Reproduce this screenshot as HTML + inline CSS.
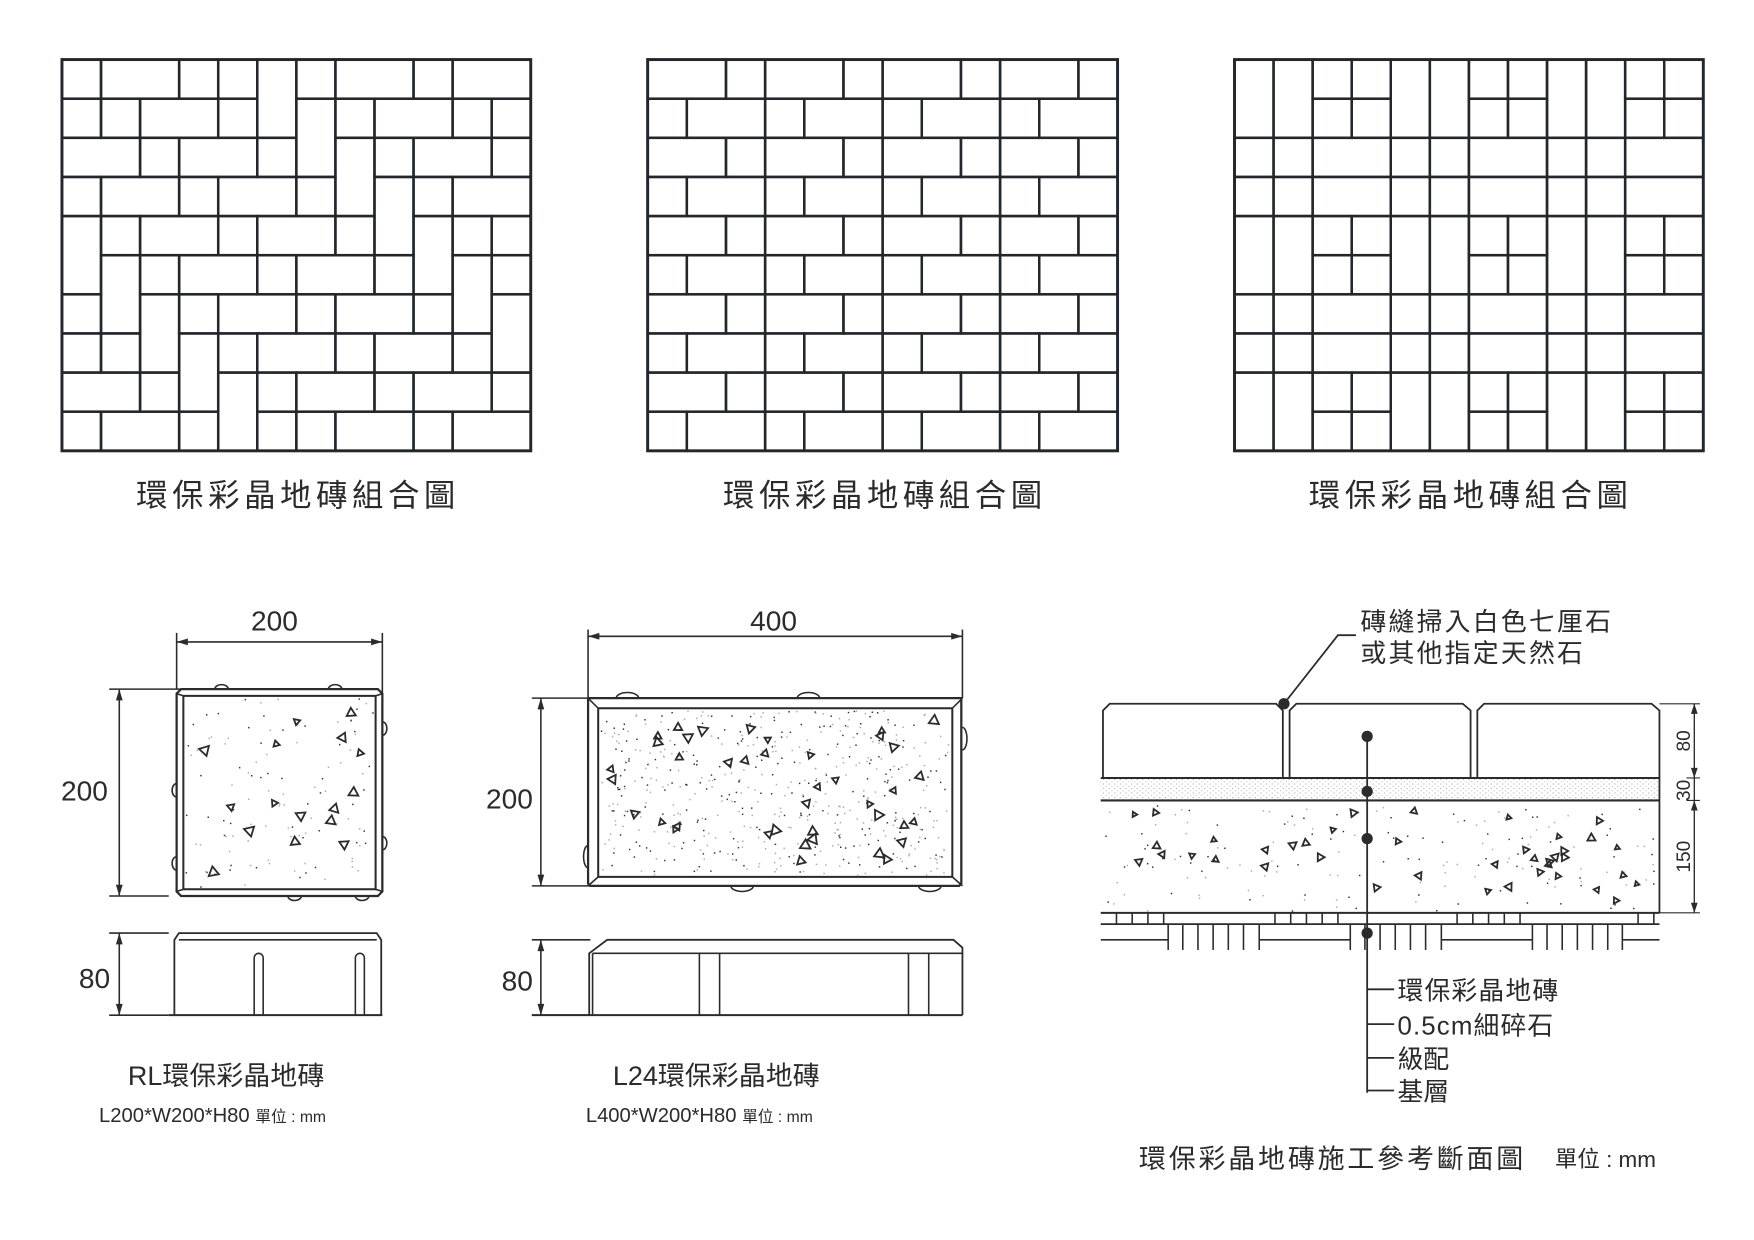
<!DOCTYPE html>
<html><head><meta charset="utf-8">
<style>
html,body{margin:0;padding:0;background:#fff;}
svg{display:block;}
text{font-family:"Liberation Sans","Noto Sans CJK TC",sans-serif;fill:#2b2b2b;}
</style></head>
<body>
<svg id="s" xmlns="http://www.w3.org/2000/svg" width="1754" height="1240" viewBox="0 0 1560 1103">
<defs>
<pattern id="sand" width="5" height="4" patternUnits="userSpaceOnUse">
<rect x="1" y="1" width="1" height="0.8" fill="#9a9a9a"/>
<rect x="3.5" y="3" width="1" height="0.8" fill="#b5b5b5"/>
</pattern>
</defs>
<g id="grids" fill="none" stroke="#23272b" stroke-width="2.2"></g>

<g font-size="28" text-anchor="middle" letter-spacing="4">
<text x="265" y="450">環保彩晶地磚組合圖</text>
<text x="787" y="450">環保彩晶地磚組合圖</text>
<text x="1308" y="450">環保彩晶地磚組合圖</text>
</g>

<!-- RL top view -->
<g fill="none" stroke="#2b2b2b" stroke-width="1.4">
<line x1="157" y1="563" x2="157" y2="613"/>
<line x1="340" y1="563" x2="340" y2="625"/>
<line x1="157" y1="571" x2="340" y2="571"/>
<line x1="97" y1="613" x2="185" y2="613"/>
<line x1="97" y1="797" x2="150" y2="797"/>
<line x1="106" y1="613" x2="106" y2="797"/>
<line x1="97" y1="830" x2="150" y2="830"/>
<line x1="97" y1="903" x2="150" y2="903"/>
<line x1="106" y1="830" x2="106" y2="903"/>
<path d="M161 613 H336 L340 617 V793 L336 797 H161 L157 793 V617 Z" stroke-width="2"/>
<rect x="163" y="619" width="171" height="172" stroke-width="1.8"/>
<path d="M157 617 L163 619 M340 617 L334 619 M157 793 L163 791 M340 793 L334 791"/>
<path d="M191 613 a6 4 0 0 1 12 0 M292 613 a6 4 0 0 1 12 0 M256 797 a6 4 0 0 0 12 0 M316 797 a6 4 0 0 0 12 0 M157 697 a4 6 0 0 0 0 12 M157 762 a4 6 0 0 0 0 12 M340 642 a4 6 0 0 1 0 12 M340 744 a4 6 0 0 1 0 12"/>
<!-- RL side -->
<path d="M155 903 V836 L159 830 H335 L339 836 V903" stroke-width="1.6"/>
<line x1="159" y1="836" x2="335" y2="836"/>
<line x1="150" y1="903" x2="340" y2="903" stroke-width="1.8"/>
<path d="M226 903 V852 a4 4 0 0 1 8 0 V903 M316 903 V852 a4 4 0 0 1 8 0 V903"/>
</g>
<g fill="#2b2b2b">
<path d="M157 571 l10 -3 v6 z M340 571 l-10 -3 v6 z M106 613 l-3 10 h6 z M106 797 l-3 -10 h6 z M106 830 l-3 10 h6 z M106 903 l-3 -10 h6 z"/>
</g>
<text x="244" y="561" font-size="25" text-anchor="middle">200</text>
<text x="75" y="712" font-size="25" text-anchor="middle">200</text>
<text x="84" y="879" font-size="25" text-anchor="middle">80</text>
<text x="201" y="965" font-size="24" text-anchor="middle">RL環保彩晶地磚</text>
<text x="88" y="998" font-size="18">L200*W200*H80 <tspan font-size="14">單位 : mm</tspan></text>

<!-- L24 top view -->
<g fill="none" stroke="#2b2b2b" stroke-width="1.4">
<line x1="523" y1="560" x2="523" y2="621"/>
<line x1="856" y1="560" x2="856" y2="621"/>
<line x1="523" y1="566" x2="856" y2="566"/>
<line x1="473" y1="621" x2="525" y2="621"/>
<line x1="473" y1="788" x2="525" y2="788"/>
<line x1="481" y1="621" x2="481" y2="788"/>
<line x1="473" y1="836" x2="525" y2="836"/>
<line x1="473" y1="903" x2="525" y2="903"/>
<line x1="481" y1="836" x2="481" y2="903"/>
<path d="M524 621 H855 V786 L853 788 H525 L523 786 V622 Z" stroke-width="2"/>
<rect x="532" y="630" width="315" height="150" stroke-width="1.8"/>
<path d="M523 621 L532 630 M856 621 L847 630 M523 788 L532 780 M856 788 L847 780"/>
<path d="M548 621 a10 5 0 0 1 20 0 M709 621 a10 5 0 0 1 20 0 M650 788 a10 5 0 0 0 20 0 M817 788 a10 5 0 0 0 20 0 M523 752 a4 10 0 0 0 0 20 M856 647 a4 10 0 0 1 0 20"/>
<!-- L24 side -->
<path d="M524 903 V848 L540 836 H848 L856 843 V903" stroke-width="1.6"/>
<line x1="527" y1="848" x2="856" y2="848"/>
<line x1="527" y1="848" x2="527" y2="903"/>
<line x1="473" y1="903" x2="856" y2="903" stroke-width="1.8"/>
<path d="M622 848 V903 M640 848 V903 M808 848 V903 M826 848 V903"/>
</g>
<g fill="#2b2b2b">
<path d="M523 566 l10 -3 v6 z M856 566 l-10 -3 v6 z M481 621 l-3 10 h6 z M481 788 l-3 -10 h6 z M481 836 l-3 10 h6 z M481 903 l-3 -10 h6 z"/>
</g>
<text x="688" y="561" font-size="25" text-anchor="middle">400</text>
<text x="453" y="719" font-size="25" text-anchor="middle">200</text>
<text x="460" y="881" font-size="25" text-anchor="middle">80</text>
<text x="637" y="965" font-size="24" text-anchor="middle">L24環保彩晶地磚</text>
<text x="521" y="998" font-size="18">L400*W200*H80 <tspan font-size="14">單位 : mm</tspan></text>

<!-- Section -->
<rect x="979" y="692" width="497" height="20" fill="url(#sand)"/>
<g fill="none" stroke="#2b2b2b" stroke-width="1.6">
<path d="M981 692 V632 L987 626 H1135 L1141 632 V692"/>
<path d="M1147 692 V632 L1153 626 H1301 L1308 632 V692"/>
<path d="M1314 692 V632 L1320 626 H1469 L1476 632 V692"/>
<line x1="979" y1="692" x2="1476" y2="692" stroke-width="1.8"/>
<line x1="979" y1="712" x2="1476" y2="712" stroke-width="1.8"/>
<line x1="1476" y1="692" x2="1476" y2="812"/>
<line x1="979" y1="812" x2="1476" y2="812" stroke-width="1.8"/>
<line x1="979" y1="822" x2="1476" y2="822"/>
<line x1="1476" y1="626" x2="1512" y2="626" stroke-width="1"/>
<line x1="1476" y1="812" x2="1512" y2="812" stroke-width="1"/>
<line x1="1507" y1="626" x2="1507" y2="812" stroke-width="1.2"/>
<line x1="1500" y1="692" x2="1512" y2="692" stroke-width="1"/>
<line x1="1500" y1="712" x2="1512" y2="712" stroke-width="1"/>
<line x1="1216" y1="655" x2="1216" y2="972"/>
<path d="M1216 880 H1240 M1216 911 H1240 M1216 941 H1240 M1216 970 H1240"/>
<path d="M1142 626 L1190 565 H1206"/>
</g>
<g id="sub" fill="none" stroke="#2b2b2b" stroke-width="1.4"></g>
<g fill="#2b2b2b">
<path d="M1507 626 l-3 9 h6 z M1507 692 l-3 -9 h6 z M1507 712 l-3 9 h6 z M1507 812 l-3 -9 h6 z"/>
<circle cx="1216" cy="655" r="5"/>
<circle cx="1216" cy="704" r="5"/>
<circle cx="1216" cy="746" r="5"/>
<circle cx="1216" cy="830" r="5"/>
<circle cx="1142" cy="626" r="5"/>
</g>
<g font-size="17" text-anchor="middle">
<text transform="translate(1503,659) rotate(-90)">80</text>
<text transform="translate(1503,703) rotate(-90)">30</text>
<text transform="translate(1503,762) rotate(-90)">150</text>
</g>
<g font-size="23">
<text x="1210" y="561" letter-spacing="2">磚縫掃入白色七厘石</text>
<text x="1210" y="589" letter-spacing="2">或其他指定天然石</text>
<text x="1243" y="889" letter-spacing="1">環保彩晶地磚</text>
<text x="1243" y="920" letter-spacing="1">0.5cm細碎石</text>
<text x="1243" y="950">級配</text>
<text x="1243" y="979">基層</text>
</g>
<text x="1013" y="1039" font-size="24" letter-spacing="2.5">環保彩晶地磚施工參考斷面圖</text>
<text x="1383" y="1038" font-size="20">單位 : mm</text>
</svg>
<script>
(function(){
var NS="http://www.w3.org/2000/svg";
function el(p,t,a){var e=document.createElementNS(NS,t);for(var k in a)e.setAttribute(k,a[k]);p.appendChild(e);return e;}
var G=document.getElementById("grids");
function grid(x0,y0,x1,y1,rows){
 var cw=(x1-x0)/12,ch=(y1-y0)/rows.length;
 for(var r=0;r<rows.length;r++){var c=0;var row=rows[r];
  for(var i=0;i<row.length;i++){var t=row[i];
   if(t==='V'){el(G,"rect",{x:x0+c*cw,y:y0+r*ch,width:cw,height:ch*2});c++;}
   else if(t==='-'){c++;}
   else{el(G,"rect",{x:x0+c*cw,y:y0+r*ch,width:cw*t,height:ch});c+=t;}
  }}
 el(G,"rect",{x:x0,y:y0,width:x1-x0,height:y1-y0,"stroke-width":2.6});
}
grid(55,53,472,401,[
[1,2,1,1,'V',1,2,1,2],
[1,1,2,1,'-','V',1,2,1,1],
[2,1,2,1,'-','V',1,2,1],
[1,2,1,2,1,'-','V',1,2],
['V',1,2,1,2,1,'-','V',1,1],
['-','V',1,2,1,2,1,'-','V',1],
[1,'-','V',1,2,1,2,1,'-','V'],
[1,1,'-','V',1,2,1,2,1,'-'],
[2,1,'-','V',1,2,1,2,1],
[1,2,1,'-',1,1,2,1,2]]);
var r2=[];for(var i=0;i<10;i++)r2.push(i%2?[1,2,1,2,1,2,1,2]:[2,1,2,1,2,1,2,1]);
grid(576,53,994,401,r2);
var r3=[];for(var i=0;i<10;i++){var m=i%4;
 r3.push(m==0?['V','V',1,1,'V','V',1,1,'V','V',1,1]:m==1?['-','-',1,1,'-','-',1,1,'-','-',1,1]:[1,1,2,1,1,2,1,1,2]);}
grid(1098,53,1515,401,r3);

var seed=7;function rnd(){seed=(seed*16807)%2147483647;return seed/2147483647;}
function tri(p,x,y,s){var a=rnd()*6.28;var d="";for(var k=0;k<3;k++){var b=a+k*2.094;d+=(k?"L":"M")+(x+s*Math.cos(b)).toFixed(1)+" "+(y+s*Math.sin(b)).toFixed(1);}el(p,"path",{d:d+"Z",fill:"none",stroke:"#2b2b2b","stroke-width":1.6});}
function fill(x0,y0,x1,y1,nd,nt,ts){
 var S=document.getElementById("s");var g=el(S,"g",{});
 for(var i=0;i<nd;i++){el(g,"rect",{x:(x0+rnd()*(x1-x0)).toFixed(1),y:(y0+rnd()*(y1-y0)).toFixed(1),width:1.3,height:1.3,fill:rnd()<0.5?"#333":"#aaa"});}
 for(var i=0;i<nt;i++)tri(g,x0+5+rnd()*(x1-x0-10),y0+5+rnd()*(y1-y0-10),ts*(0.7+rnd()*0.5));
}
fill(165,621,332,789,110,16,4.5);
fill(534,632,845,778,520,40,4.5);
fill(982,716,1474,810,160,40,3.5);
var sub=document.getElementById("sub");
var segs=[[979,1039,0],[1039,1120,1],[1120,1201,0],[1201,1282,1],[1282,1363,0],[1363,1443,1],[1443,1476,0]];
segs.forEach(function(s){
 if(s[2]==0){for(var x=s[0]+14;x<s[1]-2;x+=14)el(sub,"line",{x1:x,y1:812,x2:x,y2:822});
  el(sub,"line",{x1:s[0],y1:836,x2:s[1],y2:836});}
 else{el(sub,"line",{x1:s[0],y1:822,x2:s[0],y2:845});el(sub,"line",{x1:s[1],y1:822,x2:s[1],y2:845});
  for(var x=s[0]+13;x<s[1]-4;x+=13.5)el(sub,"line",{x1:x,y1:822,x2:x,y2:845});}
});
})();
</script>
</body></html>
